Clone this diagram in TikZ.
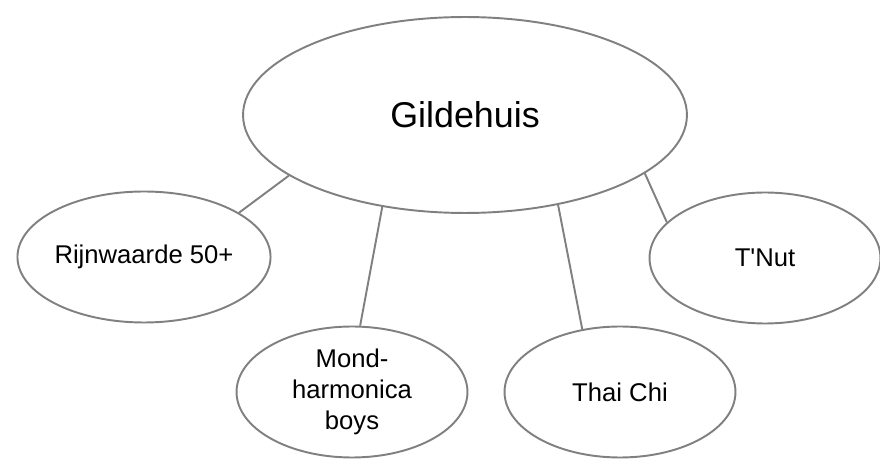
\documentclass[tikz,border=0pt]{standalone}
\usepackage{fontspec}
\setmainfont{Liberation Sans}
\usepackage{tikz}
\usetikzlibrary{shapes.geometric}

\begin{document}
\begin{tikzpicture}[x=0.02cm, y=-0.02cm,
  hub/.style={draw=black!50, line width=1.1pt, ellipse, inner sep=0pt,
              minimum width=8.88cm, minimum height=3.92cm,
              font=\fontsize{20.4}{24}\selectfont},
  club/.style={draw=black!50, line width=1.1pt, ellipse, inner sep=0pt, align=center,
               minimum width=4.62cm, minimum height=2.62cm,
               font=\fontsize{14.6}{17.6}\selectfont},
  link/.style={draw=black!50, line width=1.1pt}
]
\useasboundingbox (0,0) rectangle (880,459);
\node[hub] (gilde) at (465,115) {Gildehuis};
\node[club] (rijn) at (144,257) {Rijnwaarde 50+};
\node[club] (mond) at (352,392) {Mond-\\harmonica\\boys};
\node[club] (thai) at (620,392) {Thai Chi};
\node[club] (tnut) at (765,258) {T\textquotesingle Nut};
\draw[link] (gilde.199) -- (rijn.25);
\draw[link] (gilde.228) -- (mond.83);
\draw[link] (gilde.316) -- (thai.121);
\draw[link] (gilde.342) -- (tnut.160);
\end{tikzpicture}
\end{document}
